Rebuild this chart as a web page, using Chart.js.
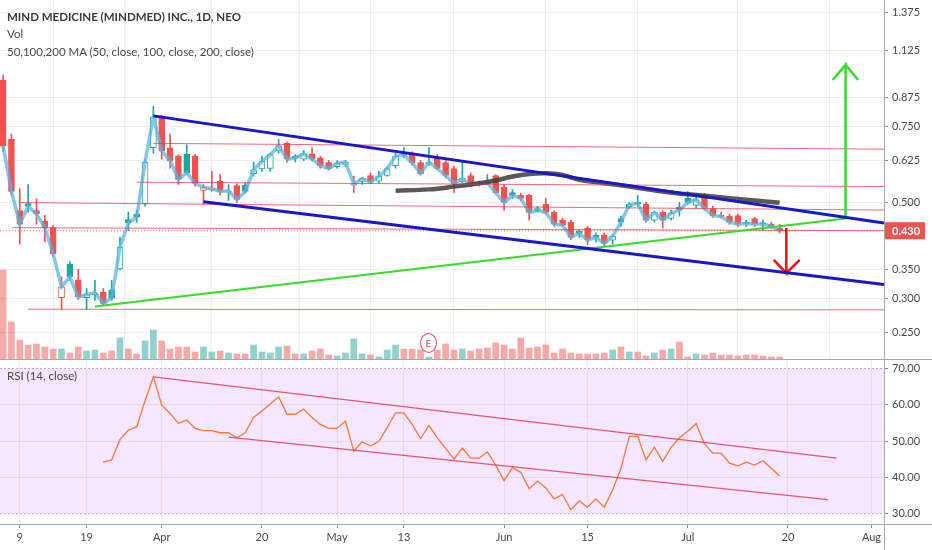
<!DOCTYPE html>
<html>
<head>
<meta charset="utf-8">
<script src="https://cdn.jsdelivr.net/npm/chart.js@4.4.0/dist/chart.umd.min.js"></script>
<style>
  body { margin: 0; background: #fff; width: 932px; height: 550px; overflow: hidden; position: relative;
         font-family: Lato, "Noto Sans", sans-serif; }
  canvas { position: absolute; left: 0; }
  #mainChart { top: 0; }
  #rsiChart { top: 360px; }
  .legend { position: absolute; left: 7px; color: #4a4a4a; font-size: 11.5px; line-height: 14px; white-space: nowrap; }
  .legend.title { font-weight: bold; color: #3a3a3a; }
  .sep { position: absolute; background: #a5a8b0; }
  #earn { position: absolute; left: 420px; top: 333px; width: 15px; height: 18px; border: 1px solid #e2506a;
          border-radius: 50%; background: #fff; color: #e2506a; font-size: 10px; line-height: 18px; text-align: center; }
</style>
</head>
<body>
<canvas id="mainChart" width="932" height="360"></canvas>
<canvas id="rsiChart" width="932" height="190"></canvas>
<div class="sep" style="left:0; top:359px; width:932px; height:1px"></div>
<div class="sep" style="left:0; top:524px; width:932px; height:1px"></div>
<div class="sep" style="left:884px; top:0; width:1px; height:550px"></div>
<div class="legend title" style="top:10px">MIND MEDICINE (MINDMED) INC., 1D, NEO</div>
<div class="legend" style="top:27px">Vol</div>
<div class="legend" style="top:45px">50,100,200 MA (50, close, 100, close, 200, close)</div>
<div class="legend" style="top:369px">RSI (14, close)</div>
<div id="earn">E</div>
<script>
// bar index 0 = 9 Mar; trading days only
const FIRST_BAR = -2;
const opens  = [0.960,0.700,0.479,0.497,0.479,0.452,0.437,0.301,0.360,0.331,0.301,0.306,0.310,0.314,0.351,0.456,0.470,0.497,0.669,0.788,
                0.669,0.641,0.646,0.641,0.533,0.536,0.560,0.528,0.547,0.548,0.583,0.598,0.599,0.658,0.685,0.640,0.630,0.648,0.634,0.618,
                0.605,0.612,0.548,0.559,0.577,0.560,0.577,0.608,0.650,0.648,0.618,0.615,0.634,0.618,0.599,0.559,0.577,0.556,0.559,0.577,
                0.542,0.527,0.519,0.519,0.484,0.495,0.474,0.455,0.450,0.429,0.436,0.420,0.420,0.409,0.459,0.489,0.500,0.495,0.455,0.474,
                0.459,0.487,0.511,0.492,0.519,0.484,0.466,0.464,0.466,0.450,0.459,0.448,0.445,0.436];
const highs  = [0.985,0.720,0.538,0.550,0.510,0.467,0.442,0.336,0.365,0.350,0.316,0.330,0.316,0.330,0.415,0.475,0.480,0.630,0.835,0.795,
                0.720,0.645,0.680,0.645,0.550,0.590,0.580,0.550,0.552,0.555,0.620,0.640,0.650,0.700,0.690,0.645,0.660,0.670,0.640,0.625,
                0.625,0.625,0.575,0.570,0.585,0.590,0.605,0.650,0.670,0.655,0.625,0.670,0.645,0.625,0.605,0.620,0.585,0.560,0.580,0.580,
                0.550,0.535,0.525,0.522,0.490,0.511,0.478,0.460,0.455,0.432,0.440,0.425,0.425,0.422,0.465,0.500,0.519,0.500,0.475,0.478,
                0.480,0.500,0.530,0.515,0.525,0.490,0.475,0.470,0.470,0.455,0.462,0.455,0.450,0.445];
const lows   = [0.655,0.520,0.400,0.475,0.445,0.405,0.375,0.283,0.330,0.298,0.283,0.297,0.290,0.297,0.349,0.430,0.450,0.490,0.650,0.630,
                0.600,0.550,0.580,0.545,0.495,0.530,0.520,0.505,0.500,0.525,0.575,0.590,0.590,0.650,0.620,0.620,0.625,0.625,0.600,0.595,
                0.600,0.605,0.527,0.550,0.555,0.555,0.575,0.600,0.635,0.610,0.580,0.610,0.595,0.570,0.527,0.555,0.545,0.545,0.550,0.525,
                0.479,0.510,0.505,0.455,0.475,0.470,0.440,0.440,0.410,0.415,0.400,0.405,0.395,0.400,0.440,0.485,0.490,0.450,0.450,0.436,
                0.455,0.465,0.495,0.485,0.480,0.462,0.460,0.445,0.440,0.440,0.440,0.430,0.435,0.425];
const closes = [0.676,0.530,0.445,0.490,0.470,0.437,0.380,0.319,0.336,0.302,0.306,0.309,0.292,0.300,0.394,0.448,0.462,0.620,0.788,0.658,
                0.625,0.565,0.586,0.553,0.542,0.538,0.530,0.532,0.508,0.530,0.595,0.622,0.645,0.676,0.630,0.633,0.648,0.630,0.608,0.599,
                0.616,0.620,0.552,0.568,0.557,0.575,0.599,0.640,0.643,0.618,0.583,0.620,0.599,0.577,0.553,0.568,0.550,0.552,0.555,0.527,
                0.500,0.519,0.511,0.474,0.479,0.474,0.445,0.443,0.415,0.424,0.409,0.415,0.402,0.418,0.450,0.495,0.497,0.455,0.474,0.455,
                0.472,0.480,0.500,0.507,0.484,0.466,0.464,0.450,0.445,0.447,0.445,0.446,0.440,0.430];
const volumes = [9.0,3.8,2.0,1.5,1.6,1.3,1.1,1.1,0.7,1.3,0.9,1.0,0.7,0.9,2.2,1.1,0.6,1.9,3.0,1.9,
                 1.1,1.3,1.3,0.8,1.3,0.8,0.9,0.7,0.6,0.6,1.5,0.8,0.7,1.3,1.4,0.6,0.6,0.9,1.1,0.5,
                 0.4,0.7,2.1,0.6,0.5,0.3,1.0,1.5,1.1,1.1,1.0,0.3,1.0,1.6,1.0,1.1,0.9,1.1,1.2,1.7,
                 1.5,1.1,2.2,1.2,1.3,1.5,0.7,1.1,0.7,0.6,0.6,0.6,0.7,1.0,1.3,0.8,0.8,0.4,0.7,1.0,
                 1.1,1.8,0.3,0.6,0.5,0.7,0.5,0.5,0.4,0.5,0.5,0.4,0.3,0.3];

const RSI_START = 10;
const rsiValues = [44.2,44.8,50.4,53.0,53.9,61.1,67.7,59.9,57.6,54.9,55.8,53.5,52.9,52.9,52.3,52.3,50.9,52.3,56.5,58.3,
                   60.2,62.2,57.4,57.4,58.8,56.5,54.6,53.5,53.5,55.5,47.3,49.8,48.7,49.9,53.7,57.8,57.8,54.6,50.7,54.3,
                   50.9,48.0,45.0,48.1,45.3,45.3,47.0,43.4,39.1,42.7,41.4,36.9,39.0,37.1,34.1,35.3,31.1,33.5,31.8,34.1,
                   31.8,36.5,42.5,51.3,51.3,44.8,48.3,44.4,48.3,50.9,52.7,54.8,49.2,46.7,46.7,43.9,43.2,44.2,43.4,44.6,
                   42.5,40.4];

// slow moving average, read at a few bars
const maBars   = [45,49,52,55,57,59,61,63,65,67,70,73,77,80,83,87,91];
const maValues = [0.532,0.536,0.544,0.554,0.562,0.574,0.582,0.584,0.579,0.564,0.554,0.544,0.530,0.522,0.516,0.507,0.499];

const timeTicks  = [0,8,17,29,38,46,58,68,80,92,102];
const timeLabels = ['9','19','Apr','20','May','13','Jun','15','Jul','20','Aug'];
const priceTicks = [0.25,0.3,0.35,0.5,0.625,0.75,0.875,1.125,1.375];
const rsiTicks   = [30,40,50,60,70];
const rsiBands   = [70,30];

// drawings: [bar, price, bar, price]
const channelLines = [[16,0.793,103.5,0.448],[22,0.502,103.5,0.323]];
const levelLines   = [[16,0.685,103.5,0.664],[14,0.557,103.5,0.544],[0,0.4995,103.5,0.480],
                      [-0.9,0.437,103.5,0.430],[1,0.283,103.5,0.282]];
const supportLine  = [9,0.287,99.4,0.460];
const upArrow      = [[98.9,0.460],[98.9,1.041],[97.35,0.960],[98.9,1.041],[100.4,0.960]];
const downArrow    = [[91.8,0.436],[91.8,0.343],[90.3,0.368],[91.8,0.343],[93.4,0.368]];
// RSI channel: [bar, rsi, bar, rsi]
const rsiLines     = [[16,67.7,97.8,45.3],[25,51.1,96.8,33.9]];

const X_MIN = -2.37, X_MAX = 103.5;
const P_MIN = 0.2159, P_MAX = 1.4705;
const R_MIN = 27.16, R_MAX = 72.34;

const UP = '#26a69a', DOWN = '#ef5350';
const GRID = 'rgba(42,46,57,0.07)';
const TEXT = '#4a4a4a';
const FONT = 'Lato, "Noto Sans", sans-serif';

Chart.defaults.font.family = FONT;
Chart.defaults.font.size = 11;
Chart.defaults.color = TEXT;

const bars = closes.map((c, i) => i + FIRST_BAR);
const candleColor = closes.map((c, i) => c >= (i > 0 ? closes[i - 1] : opens[i]) ? UP : DOWN);
const bodyFill = closes.map((c, i) => c < opens[i] ? candleColor[i] : '#ffffff');
const volColor = closes.map((c, i) => c >= opens[i] ? 'rgba(38,166,154,0.5)' : 'rgba(239,83,80,0.5)');

function seg(l) { return [{x: l[0], y: l[1]}, {x: l[2], y: l[3]}]; }
function lineSet(data, color, width, order, dash) {
    return { type: 'line', data: data, borderColor: color, borderWidth: width, pointRadius: 0,
             fill: false, order: order, borderDash: dash || [], tension: 0 };
}
function noPad(s) { s.paddingTop = 0; s.paddingBottom = 0; s.paddingLeft = 0; s.paddingRight = 0; }

function timeAxis(showLabels) {
    return {
        type: 'linear', min: X_MIN, max: X_MAX, offset: false,
        afterBuildTicks: s => { s.ticks = timeTicks.map(v => ({value: v})); },
        ticks: { display: showLabels, autoSkip: false, maxRotation: 0, padding: 3, font: { size: 11 },
                 callback: (v) => timeLabels[timeTicks.indexOf(v)] },
        grid: { color: GRID, drawTicks: showLabels, tickLength: 4, tickColor: '#8a8d95' },
        border: { display: false },
        afterFit: s => { s.height = showLabels ? 26 : 0; noPad(s); }
    };
}

const lastPriceLabel = {
    id: 'lastPriceLabel',
    afterDraw(chart) {
        const {ctx, chartArea, scales} = chart;
        const v = closes[closes.length - 1];
        const y = scales.y.getPixelForValue(v);
        ctx.save();
        ctx.fillStyle = DOWN;
        ctx.fillRect(chartArea.right + 1, y - 8.5, 40, 17);
        ctx.fillStyle = '#fff';
        ctx.font = 'bold 11px ' + FONT;
        ctx.textBaseline = 'middle';
        ctx.fillText(v.toFixed(3), chartArea.right + 8, y + 0.5);
        ctx.restore();
    }
};

const mainSets = [
    { type: 'bar', yAxisID: 'yv', data: bars.map((x, i) => ({x: x, y: volumes[i]})),
      backgroundColor: volColor, barThickness: 6, grouped: false, order: 6 },
    { type: 'bar', data: bars.map((x, i) => ({x: x, y: [lows[i], highs[i]]})),
      backgroundColor: candleColor, barThickness: 1, grouped: false, order: 5 },
    { type: 'bar', data: bars.map((x, i) => ({x: x, y: [opens[i], closes[i]]})),
      backgroundColor: bodyFill, borderColor: candleColor, borderWidth: 1, borderSkipped: false,
      barThickness: 6, minBarLength: 1, grouped: false, order: 4 },
    lineSet(bars.map((x, i) => ({x: x, y: closes[i]})), 'rgba(90,180,225,0.75)', 3.5, 3),
    Object.assign(lineSet(maBars.map((x, i) => ({x: x, y: maValues[i]})), 'rgba(60,60,60,0.85)', 4.5, 2), {tension: 0.4}),
    lineSet([{x: X_MIN, y: closes[closes.length - 1]}, {x: X_MAX, y: closes[closes.length - 1]}], 'rgba(239,83,80,0.8)', 1, 1, [1, 2])
];
levelLines.forEach(l => mainSets.push(lineSet(seg(l), 'rgba(242,54,69,0.75)', 1, 1)));
channelLines.forEach(l => mainSets.push(lineSet(seg(l), '#1818c8', 3, 0)));
mainSets.push(lineSet(seg(supportLine), '#33dd2a', 2, 0));
mainSets.push(lineSet(upArrow.map(p => ({x: p[0], y: p[1]})), '#2ee02a', 2.5, 0));
mainSets.push(lineSet(downArrow.map(p => ({x: p[0], y: p[1]})), '#f01010', 2.5, 0));

new Chart(document.getElementById('mainChart'), {
    type: 'bar',
    data: { datasets: mainSets },
    options: {
        responsive: false, animation: false,
        layout: { padding: 0 },
        plugins: { legend: { display: false }, tooltip: { enabled: false } },
        scales: {
            x: timeAxis(false),
            y: {
                type: 'logarithmic', position: 'right', min: P_MIN, max: P_MAX,
                afterBuildTicks: s => { s.ticks = priceTicks.map(v => ({value: v})); },
                ticks: { autoSkip: false, padding: 4, callback: v => Number(v).toFixed(3) },
                grid: { color: GRID, tickLength: 4, tickColor: '#8a8d95' },
                border: { display: false },
                afterFit: s => { s.width = 48; noPad(s); }
            },
            yv: { type: 'linear', display: false, min: 0, max: 36 }
        }
    },
    plugins: [lastPriceLabel]
});

const rsiSets = [
    lineSet(rsiValues.map((v, i) => ({x: i + RSI_START, y: v})), '#f47a3c', 1.3, 1),
    Object.assign(lineSet([{x: X_MIN, y: rsiBands[0]}, {x: X_MAX, y: rsiBands[0]}], 'rgba(150,150,165,0.7)', 1, 3, [2, 2]),
                  { fill: '+1', backgroundColor: 'rgba(153,21,255,0.1)' }),
    lineSet([{x: X_MIN, y: rsiBands[1]}, {x: X_MAX, y: rsiBands[1]}], 'rgba(150,150,165,0.7)', 1, 3, [2, 2])
];
rsiLines.forEach(l => rsiSets.push(lineSet(seg(l), 'rgba(232,60,80,0.85)', 1.2, 0)));

new Chart(document.getElementById('rsiChart'), {
    type: 'line',
    data: { datasets: rsiSets },
    options: {
        responsive: false, animation: false,
        layout: { padding: 0 },
        plugins: { legend: { display: false }, tooltip: { enabled: false } },
        scales: {
            x: timeAxis(true),
            y: {
                type: 'linear', position: 'right', min: R_MIN, max: R_MAX,
                afterBuildTicks: s => { s.ticks = rsiTicks.map(v => ({value: v})); },
                ticks: { autoSkip: false, padding: 4, callback: v => Number(v).toFixed(2) },
                grid: { color: c => rsiBands.includes(c.tick && c.tick.value) ? 'rgba(0,0,0,0)' : GRID,
                        tickLength: 4, tickColor: '#8a8d95' },
                border: { display: false },
                afterFit: s => { s.width = 48; noPad(s); }
            }
        }
    }
});
</script>
</body>
</html>
